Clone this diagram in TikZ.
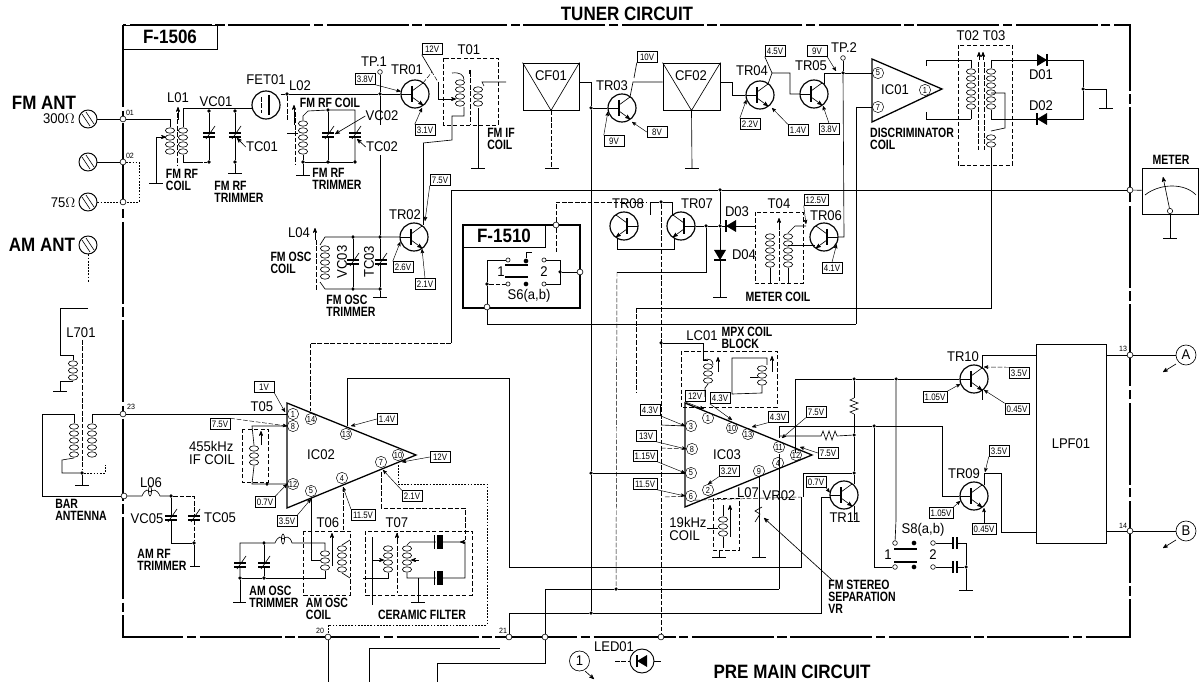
\documentclass[tikz,border=0pt]{standalone}
\usepackage{fontspec}
\setmainfont{Liberation Sans}
\newfontfamily\reglab[FakeStretch=0.93]{Liberation Sans}
\newfontfamily\boldlab[FakeStretch=0.78]{Liberation Sans}
\newfontfamily\biglab[FakeStretch=0.88]{Liberation Sans}
\newfontfamily\voltlab[FakeStretch=0.84]{Liberation Sans}
\usetikzlibrary{arrows}

\newcommand{\transistor}[4]{%
  \node[tr] (#1) at (#2,#3) {};
  \draw[line width=1.6pt] (#2-3*#4,#3-8) -- (#2-3*#4,#3+8);
  \draw (#2-14*#4,#3) -- (#2-3*#4,#3);
  \draw (#2-3*#4,#3-3) -- (#2+8*#4,#3-11);
  \draw[->] (#2-3*#4,#3+3) -- (#2+8*#4,#3+11);
}
\newcommand{\coilv}[3]{%
  \foreach \k in {1,...,#3} \draw (#1,{#2+(\k-.5)*7}) ellipse (4.6 and 2.7);
}
\newcommand{\groundbar}[2]{\draw (#1-7,#2) -- (#1+7,#2);}
\newcommand{\varcap}[2]{%
  \fill[white] (#1-4,#2-2) rectangle (#1+4,#2+2);
  \draw[line width=1pt] (#1-6,#2-2) -- (#1+6,#2-2) (#1-6,#2+2) -- (#1+6,#2+2);
  \draw (#1-3,#2+4) -- (#1+6,#2-9);
}
\newcommand{\sidecap}[2]{%
  \fill[white] (#1-2,#2-4) rectangle (#1+2,#2+4);
  \draw[line width=1pt] (#1-2,#2-6) -- (#1-2,#2+6) (#1+2,#2-6) -- (#1+2,#2+6);
}
\newcommand{\ceramcap}[2]{%
  \fill[white] (#1-3,#2-4) rectangle (#1+3,#2+4);
  \draw (#1-5,#2-7) -- (#1-5,#2+7);
  \fill (#1-2,#2-7) rectangle (#1+4,#2+7);
}
\newcommand{\diodesym}[3]{%
  \begin{scope}[shift={(#1,#2)},rotate=#3]
    \fill (-5,-6) -- (5,0) -- (-5,6) -- cycle;
    \draw[line width=1pt] (5,-6) -- (5,6);
  \end{scope}
}
\newcommand{\screw}[3]{%
  \node[screwhead] (#1) at (#2,#3) {};
  \draw (#2-6,#3-5) -- (#2+2,#3+7) (#2-2,#3-7) -- (#2+6,#3+5);
}

\begin{document}
\begin{tikzpicture}[x=0.03cm,y=-0.03cm,>=stealth',line width=.55pt]
  \tikzstyle{lab}=[inner sep=0pt,font=\reglab\fontsize{12}{12}\selectfont]
  \tikzstyle{blab}=[inner sep=0pt,align=left,font=\boldlab\bfseries\fontsize{11.5}{10.2}\selectfont]
  \tikzstyle{bigl}=[inner sep=0pt,font=\biglab\bfseries\fontsize{16.5}{16.5}\selectfont]
  \tikzstyle{tiny}=[inner sep=0pt,font=\reglab\fontsize{6.5}{6.5}\selectfont]
  \tikzstyle{vbox}=[draw,line width=.4pt,inner xsep=1.5pt,inner ysep=0pt,minimum height=.33cm,minimum width=.6cm,
                    fill=white,font=\voltlab\fontsize{8}{8}\selectfont]
  \tikzstyle{pinc}=[circle,draw,line width=.4pt,inner sep=0pt,minimum size=.34cm,
                    font=\voltlab\fontsize{7.5}{7.5}\selectfont]
  \tikzstyle{tr}=[circle,draw,line width=1pt,inner sep=0pt,minimum size=.84cm]
  \tikzstyle{screwhead}=[circle,draw,line width=.8pt,inner sep=0pt,minimum size=.54cm]
  \tikzstyle{dotn}=[circle,fill,inner sep=0pt,minimum size=3pt]
  \tikzstyle{opn}=[circle,draw,fill=white,line width=.5pt,inner sep=0pt,minimum size=5pt]
  \tikzstyle{lightw}=[dash pattern=on 4pt off 1.5pt,line width=.4pt]
  \tikzstyle{dotw}=[dash pattern=on 1.5pt off 1.2pt,line width=.4pt]
  \tikzstyle{unitbox}=[dash pattern=on 3.5pt off 2pt,line width=.45pt]
  \tikzstyle{board}=[line width=1.1pt,dash pattern=on 70pt off 3pt on 8pt off 3pt]
  \tikzstyle{ichip}=[line width=1.1pt]
  \tikzstyle{varrow}=[->,line width=.4pt,shorten >=0pt]
  \useasboundingbox (0,0) rectangle (1200,682);

  % board
  \draw[board] (123,25) rectangle (1130,637);
  \node[draw,thick,fill=white,minimum width=2.82cm,minimum height=.72cm,inner sep=0pt,
        font=\biglab\bfseries\fontsize{16.5}{16.5}\selectfont] (F1506) at (170,37) {F-1506};
  \node[bigl] (tuner) at (627,14) {TUNER CIRCUIT};
  \node[bigl] (premain) at (792,672) {PRE MAIN CIRCUIT};

  % aerial terminals
  \node[bigl] (fmant) at (44,103) {FM ANT};
  \node[bigl] (amant) at (42,245) {AM ANT};
  \node[lab] (ohm300) at (59,119) {300$\Omega$};
  \node[lab] (ohm75) at (63,203) {75$\Omega$};
  \screw{s300}{88}{119}
  \screw{smid}{88}{162}
  \screw{s75}{88}{202}
  \screw{sam}{88}{245}
  \node[opn] (j01) at (123,119) {};
  \node[opn] (j02) at (123,162) {};
  \node[opn] (j75) at (123,202) {};
  \node[opn] (j23) at (123,414) {};
  \node[opn] (jbar) at (124,496) {};
  \node[tiny] (n01) at (130,113) {01};
  \node[tiny] (n02) at (130,156) {02};
  \node[tiny] (n23) at (131,407) {23};
  \draw (s300) -- (j01);
  \draw (smid) -- (j02);
  \draw[dotw] (s75) -- (j75);
  \draw[dotw] (j02) -- (139,162) -- (139,202) -- (j75);
  \draw[dotw] (sam) -- (88,282);

  % L01 and first trimmers
  \node[lab] (tL01) at (178,98) {L01};
  \node[lab] (tVC01) at (216,102) {VC01};
  \node[lab] (tTC01) at (262,147) {TC01};
  \node[blab] (cL01) at (182,180) {FM RF\\COIL};
  \node[blab] (cTC01) at (239,192) {FM RF\\TRIMMER};
  \node[tr] (FET01) at (266,105) {};
  \node[lab] (tFET01) at (266,80) {FET01};
  \node[dotn] (d1) at (209,111) {};
  \node[dotn] (d2) at (235,111) {};
  \node[dotn] (d3) at (209,162) {};
  \node[dotn] (d4) at (235,162) {};
  \coilv{170}{127}{4}
  \coilv{183}{127}{4}
  \draw (j01) -- (170,119) -- (170,127);
  \draw (183,127) |- (FET01.195);
  \draw (183,155) -- (183,162) -- (198,162);
  \draw[lightw] (198,162) -- (d3);
  \draw[->] (156,183) |- (166,137);
  \groundbar{156}{183}
  \draw[lightw] (177,113) -- (177,165);
  \draw[->] (178,120) -- (178,107);
  \draw (d1) -- (d3);
  \draw (d2) -- (d4) -- (235,173);
  \groundbar{235}{173}
  \varcap{209}{135}
  \varcap{235}{135}
  \draw[->] (tTC01.west) -- (237,138);
  \draw[lightw] (261,97) -- (261,113);
  \draw[line width=1pt] (269,95) -- (269,115);

  % L02 and TR01
  \node[lab] (tL02) at (300,86) {L02};
  \node[blab] (cL02) at (330,103) {FM RF COIL};
  \node[lab] (tVC02) at (382,116) {VC02};
  \node[lab] (tTC02) at (382,147) {TC02};
  \node[blab] (cTC02) at (337,179) {FM RF\\TRIMMER};
  \node[lab] (tTP1) at (374,62) {TP.1};
  \node[opn,minimum size=4pt] (TP1) at (380,72) {};
  \transistor{TR01}{415}{94}{1}
  \node[lab] (tTR01) at (407,70) {TR01};
  \node[dotn] (d5) at (287,94) {};
  \node[dotn] (d6) at (380,94) {};
  \node[dotn] (d7) at (328,110) {};
  \node[dotn] (d8) at (328,162) {};
  \node[dotn] (d9) at (303,162) {};
  \node[dotn] (d10) at (355,162) {};
  \draw (FET01.east |- d5) -- (d5) -- (d6) -- (TR01.west);
  \draw[lightw] (d5) -- (287,120);
  \draw (287,133) -- (298,133);
  \coilv{303}{120}{5}
  \draw (303,120) -- (303,116) -- (308,111) -- (d7) -- (355,110) -- (355,162);
  \draw (d7) -- (d8);
  \draw (d9) -- (d10);
  \draw (303,155) -- (d9) -- (303,175);
  \groundbar{303}{175}
  \varcap{328}{135}
  \varcap{355}{135}
  \draw[->] (294,125) -- (294,105);
  \draw[lightw] (295,112) -- (295,165);
  \draw[->] (tVC02.west) -- (335,134);
  \draw[->] (tTC02.west) -- (357,139);
  \draw (TP1) -- (d6) -- (380,125);
  \node[vbox] (v38a) at (365,79) {3.8V};
  \node[vbox] (v12a) at (432,49) {12V};
  \node[vbox] (v31a) at (425,130) {3.1V};
  \draw[varrow] (v38a.south east) -- (TR01.170);
  \draw (v12a.south west) -- (432,72);
  \draw[varrow] (v31a.north west) -- (422,108);

  % T01
  \node[lab] (tT01) at (469,50) {T01};
  \node[blab] (cT01) at (501,139) {FM IF\\COIL};
  \draw[unitbox] (443,58) rectangle (498,125);
  \coilv{460}{79}{4}
  \coilv{478}{86}{3}
  \draw[lightw] (470,72) -- (470,125);
  \draw[line width=1pt] (470,70) -- (470,74);
  \draw (452,73) .. controls (460,72) and (464,75) .. (464,80);
  \draw[lightw] (423,83) -- (432,72) -- (438,82);
  \draw[->] (438,82) -- (438,99) -- (456,99);
  \draw (484,86) -- (482,82) -- (506,82);
  \draw (478,108) -- (478,168);
  \groundbar{478}{168}
  \draw (464,107) -- (464,116) -- (452,116) -- (452,140) -- (423,143);

  % TR02
  \transistor{TR02}{414}{237}{1}
  \node[lab] (tTR02) at (405,215) {TR02};
  \node[lab] (tL04) at (299,233) {L04};
  \node[blab] (cL04) at (291,263) {FM OSC\\COIL};
  \node[lab,rotate=90] (tVC03) at (342,262) {VC03};
  \node[lab,rotate=90] (tTC03) at (369,262) {TC03};
  \node[blab] (cTC03) at (351,306) {FM OSC\\TRIMMER};
  \node[dotn] (d11) at (353,237) {};
  \node[dotn] (d12) at (380,237) {};
  \node[dotn] (d13) at (353,289) {};
  \node[dotn] (d14) at (380,289) {};
  \draw (380,155) -- (d12) -- (d14) -- (380,297);
  \groundbar{380}{297}
  \draw (320,245) -- (325,237) -- (d11) -- (d12) -- (TR02.west);
  \draw (320,282) -- (325,289) -- (d13) -- (d14);
  \draw (d11) -- (d13);
  \coilv{325}{245}{5}
  \draw[lightw] (316,240) -- (316,290);
  \draw[->] (315,240) -- (315,228);
  \varcap{353}{262}
  \varcap{381}{262}
  \node[vbox] (v75a) at (440,180) {7.5V};
  \node[vbox] (v26a) at (403,267) {2.6V};
  \node[vbox] (v21a) at (425,284) {2.1V};
  \draw (423,143) -- (423,225);
  \draw[varrow] (v75a.south west) -- (425,221);
  \draw[varrow] (v26a.north west) -- (TR02.200);
  \draw[varrow] (v21a.north) -- (422,249);

  % CF01 CF02 TR03
  \node[draw,thick,minimum width=1.68cm,minimum height=1.41cm,inner sep=0pt] (CF01) at (551,86.5) {};
  \node[draw,thick,minimum width=1.71cm,minimum height=1.41cm,inner sep=0pt] (CF02) at (691.5,86.5) {};
  \draw (CF01.north west) -- (CF01.south) -- (CF01.north east);
  \draw (CF02.north west) -- (CF02.south) -- (CF02.north east);
  \node[lab] (tCF01) at (551,76) {CF01};
  \node[lab] (tCF02) at (691,76) {CF02};
  \draw[lightw] (CF01.south) -- (551,168);
  \groundbar{552}{168}
  \draw (CF02.south) -- (692,168);
  \groundbar{692}{168}
  \transistor{TR03}{622}{108}{1}
  \node[lab] (tTR03) at (612,86) {TR03};
  \node[dotn] (d15) at (591,108) {};
  \node[dotn] (d16) at (591,473) {};
  \node[dotn] (d17) at (591,613) {};
  \draw (CF01.east |- 0,82) -- (591,82) -- (d15) -- (TR03.west);
  \draw (d15) -- (d16) -- (d17);
  \draw (630,97) -- (633,82) -- (CF02.west |- 0,82);
  \node[vbox] (v10a) at (647,57) {10V};
  \node[vbox] (v9a) at (614,141) {9V};
  \node[vbox] (v8a) at (657,132) {8V};
  \draw (v10a.south west) -- (634,78);
  \draw[varrow] (v9a.north west) -- (TR03.195);
  \draw[varrow] (v8a.west) -- (632,122);

  % TR04 TR05
  \transistor{TR04}{760}{95}{1}
  \transistor{TR05}{814}{94}{1}
  \node[lab] (tTR04) at (752,71) {TR04};
  \node[lab] (tTR05) at (811,66) {TR05};
  \draw (CF02.east |- 0,82) -- (732,82) -- (732,95) -- (TR04.west);
  \draw (768,84) -- (772,73) -- (790,73) -- (790,94) -- (TR05.west);
  \node[vbox] (v45a) at (775,51) {4.5V};
  \node[vbox] (v22a) at (750,124) {2.2V};
  \node[vbox] (v14a) at (798,130) {1.4V};
  \node[vbox] (v9b) at (817,51) {9V};
  \node[vbox] (v38b) at (829,129) {3.8V};
  \draw (v45a.south west) -- (772,73);
  \draw[varrow] (v22a.north west) -- (TR04.200);
  \draw[varrow] (v14a.north west) -- (772,108);
  \draw[varrow] (v9b.south east) -- (836,71);
  \draw[varrow] (v38b.north) -- (823,106);

  % IC01 and discriminator
  \node[lab] (tTP2) at (844,48) {TP.2};
  \node[opn,minimum size=4pt] (TP2) at (843,58) {};
  \node[dotn] (d18) at (843,73) {};
  \node[pinc] (p5a) at (878,73) {5};
  \node[pinc] (p7a) at (878,107) {7};
  \node[pinc] (p1a) at (925,90) {1};
  \node[lab] (tIC01) at (895,90) {IC01};
  \draw[ichip] (872,59) -- (942,89) -- (872,122) -- cycle;
  \node[blab] (cIC01) at (912,139) {DISCRIMINATOR\\COIL};
  \draw (824,84) -- (824,73) -- (d18) -- (p5a);
  \draw (TP2) -- (d18);
  \draw (p7a) -- (856,107);
  \draw (926,66) -- (926,60) -- (971,60);
  \draw (926,112) -- (926,119) -- (971,119);
  \node[lab] (tT02) at (981,36) {T02 T03};
  \draw[unitbox] (958,45) rectangle (1012,165);
  \coilv{971}{68}{6}
  \coilv{991}{68}{6}
  \draw (971,60) -- (971,68) (971,110) -- (971,119);
  \draw (991,60) -- (991,68) (991,110) -- (991,119);
  \draw[lightw] (978,62) -- (978,150) (984,62) -- (984,150);
  \draw[->] (979,60) -- (979,52);
  \draw[->] (983,60) -- (983,52);
  \coilv{991}{134}{2}
  \draw (991,93) -- (1005,93) -- (1005,128) -- (991,131);
  \node[dotn] (d19) at (1083,89) {};
  \node[lab] (tD01) at (1041,75) {D01};
  \node[lab] (tD02) at (1041,106) {D02};
  \draw (991,60) -- (1083,60) -- (d19) -- (1083,119) -- (991,119);
  \draw (d19) -- (1106,89) -- (1106,108);
  \groundbar{1106}{108}
  \diodesym{1042}{60}{0}
  \diodesym{1042}{119}{180}

  % long wires
  \draw (856,107) -- (856,324);
  \draw (991,148) -- (991,308) -- (636,308);
  \draw[lightw] (636,308) -- (636,392);

  % meter bus
  \node[opn] (jm) at (1130,190) {};
  \node[dotn] (d20) at (720,190) {};
  \draw (451,343) -- (451,190) -- (d20) -- (jm);
  \draw[lightw] (451,343) -- (310,343) -- (310,411);
  \node[draw,thick,minimum width=1.68cm,minimum height=1.38cm,inner sep=0pt] (meter) at (1170,191) {};
  \node[blab] (tmeter) at (1171,160) {METER};
  \node[opn,minimum size=4.5pt] (mpiv) at (1170,211) {};
  \draw (jm) -- (meter);
  \draw (1145,195) .. controls (1160,183) and (1185,183) .. (1196,195);
  \draw[->] (mpiv) -- (1163,177);
  \draw (mpiv) -- (1170,238);
  \groundbar{1170}{238}

  % TR06 TR07 TR08 and meter coil
  \transistor{TR06}{824}{237}{-1}
  \transistor{TR07}{681}{226}{-1}
  \transistor{TR08}{624}{226}{-1}
  \node[lab] (tTR06) at (826,216) {TR06};
  \node[lab] (tTR07) at (697,204) {TR07};
  \node[lab] (tTR08) at (628,204) {TR08};
  \node[lab] (tD03) at (737,212) {D03};
  \node[lab] (tD04) at (744,255) {D04};
  \node[lab] (tT04) at (779,204) {T04};
  \node[blab] (cT04) at (778,297) {METER COIL};
  \node[dotn] (d21) at (720,226) {};
  \node[dotn] (d22) at (706,226) {};
  \node[dotn] (d23) at (661,202) {};
  \draw (d20) -- (d21) -- (720,297);
  \groundbar{720}{297}
  \diodesym{720}{255}{-90}
  \draw (TR07.east) -- (d22) -- (d21) -- (755,226);
  \diodesym{731}{226}{180}
  \draw (d22) -- (706,272) -- (617,272);
  \draw (650,215) -- (650,202) -- (d23) -- (672,202) -- (672,215);
  \draw (617,238) -- (617,249) -- (674,249) -- (674,238);
  \draw[unitbox] (755,212) rectangle (803,283);
  \coilv{770}{233}{5}
  \coilv{788}{233}{5}
  \draw (770,268) -- (770,283) (788,268) -- (788,283);
  \draw[lightw] (779,225) -- (779,283);
  \draw[->] (779,229) -- (779,218);
  \draw (788,233) -- (795,226) -- (806,226);
  \draw (788,245) -- (815,245);
  \draw (TR06.east) -- (844,237) -- (d18);
  \node[vbox] (v125) at (816,200) {12.5V};
  \node[vbox] (v41) at (832,268) {4.1V};
  \draw[varrow] (v125.south west) -- (806,224);
  \draw[varrow] (v41.north) -- (TR06.-30);
  \draw[lightw] (d23) -- (661,343);

  % F-1510 with S6
  \node[draw,line width=1.2pt,minimum width=3.51cm,minimum height=2.49cm,inner sep=0pt] (F1510) at (521.5,266.5) {};
  \node[draw,thick,fill=white,minimum width=2.46cm,minimum height=.66cm,inner sep=0pt,
        font=\biglab\bfseries\fontsize{16.5}{16.5}\selectfont] (tF1510) at (504,236) {F-1510};
  \node[opn] (j1510) at (556,225) {};
  \node[opn] (js6b) at (487,307) {};
  \node[opn] (js6r) at (580,272) {};
  \node[dotn] (d24) at (487,284) {};
  \node[lab] (s6one) at (501,272) {1};
  \node[lab] (s6two) at (544,272) {2};
  \node[lab] (tS6) at (529,296) {S6(a,b)};
  \node[opn,minimum size=3.5pt] (s6e) at (508,260) {};
  \node[opn,minimum size=3.5pt] (s6f) at (508,284) {};
  \node[dotn,minimum size=4pt] (s6g) at (526,261) {};
  \node[dotn,minimum size=4pt] (s6h) at (526,284) {};
  \draw[lightw] (j1510) |- (647,202);
  \draw[lightw] (j1510) -- (556,252);
  \draw (js6b) -- (487,324) -- (856,324);
  \draw (js6b) -- (d24) -- (487,260) -- (s6e);
  \draw[lightw] (d24) -- (s6f);
  \draw (s6g) -- (526,252) -- (532,252);
  \draw[line width=1.4pt] (505,265) -- (528,265) (505,277) -- (528,277);
  \node[opn,minimum size=3.5pt] (s6a) at (544,260) {};
  \node[opn,minimum size=3.5pt] (s6c) at (544,284) {};
  \node[dotn] (s6d) at (560,272) {};
  \draw (s6a) -- (560,260) -- (560,284) -- (s6c);
  \draw (s6d) -- (js6r);

  % vertical runs to the bottom edge
  \node[opn] (j20) at (328,637) {};
  \node[opn] (j21) at (509,637) {};
  \node[opn] (j22) at (545,637) {};
  \node[opn] (j24) at (661,637) {};
  \node[tiny] (n20) at (320,631) {20};
  \node[tiny] (n21) at (503,631) {21};
  \node[dotn] (d25) at (616,589) {};
  \draw[lightw] (617,272) -- (d25);
  \draw[lightw] (661,343) -- (j24);
  \draw (j20) -- (328,682);
  \draw (j22) -- (545,589) -- (d25) -- (779,589);
  \draw (j22) -- (545,663) -- (437,663) -- (437,682);
  \draw (369,682) -- (369,648) -- (500,648);
  \draw (j21) -- (509,613) -- (d17) -- (821,613) -- (821,497) -- (830,497);

  % antenna coil
  \node[lab] (tL701) at (81,333) {L701};
  \node[blab] (cbar) at (81,510) {BAR\\ANTENNA};
  \node[lab] (tL06) at (151,483) {L06};
  \node[lab] (tVC05) at (147,519) {VC05};
  \node[lab] (tTC05) at (220,518) {TC05};
  \node[blab] (cVC05) at (162,560) {AM RF\\TRIMMER};
  \node[dotn] (d26) at (82,473) {};
  \node[dotn] (d27) at (171,496) {};
  \node[dotn] (d28) at (194,543) {};
  \coilv{73}{360}{3}
  \draw (88,308) -- (60,308) -- (60,355) -- (73,355) -- (73,360);
  \draw (73,381) -- (60,381) -- (60,391);
  \groundbar{60}{391}
  \draw[lightw] (82,340) -- (82,470);
  \coilv{74}{423}{5}
  \coilv{92}{423}{5}
  \draw (92,423) -- (92,414) -- (j23);
  \draw (74,423) -- (74,414) -- (42,414) -- (42,496) -- (jbar);
  \draw (74,458) -- (62,460) -- (62,473) -- (d26);
  \draw[dotw] (d26) -- (105,473) -- (105,465);
  \draw (d26) -- (82,485);
  \groundbar{82}{485}
  \draw (jbar) -- (142,496) .. controls (145,489) and (148,489) .. (150,492)
        .. controls (153,489) and (157,489) .. (160,496) -- (d27);
  \draw (150,491) ellipse (1.6 and 5);
  \draw[lightw] (d27) -- (194,496) -- (d28);
  \draw (d27) -- (171,543) -- (d28) -- (194,566);
  \draw (190,566) -- (200,566);
  \varcap{171}{518}
  \varcap{194}{518}

  % IC02
  \node[lab] (tT05) at (262,407) {T05};
  \node[lab] (tIC02) at (321,455) {IC02};
  \node[lab,align=left,font=\reglab\fontsize{12}{11}\selectfont] (cT05) at (212,453) {455kHz\\IF COIL};
  \draw[ichip] (287,403) -- (416,455) -- (287,508) -- cycle;
  \node[pinc] (p1b) at (293,414) {1};
  \node[pinc] (p8b) at (293,426) {8};
  \node[pinc] (p14b) at (311,419) {14};
  \node[pinc] (p13b) at (346,434) {13};
  \node[pinc] (p12b) at (293,484) {12};
  \node[pinc] (p5b) at (311,491) {5};
  \node[pinc] (p4b) at (342,478) {4};
  \node[pinc] (p7b) at (381,462) {7};
  \node[pinc] (p10b) at (398,455) {10};
  \node[vbox] (v1b) at (264,387) {1V};
  \node[vbox] (v75b) at (220,424) {7.5V};
  \node[vbox] (v07b) at (265,502) {0.7V};
  \node[vbox] (v35b) at (287,521) {3.5V};
  \node[vbox] (v115b) at (363,515) {11.5V};
  \node[vbox] (v21b) at (412,496) {2.1V};
  \node[vbox] (v14b) at (387,419) {1.4V};
  \node[vbox] (v12b) at (440,457) {12V};
  \draw[varrow] (v1b.south east) -- (285,412);
  \draw[varrow,lightw] (v75b.north east) -- (p8b.west);
  \draw[varrow] (v07b.north east) -- (p12b.west);
  \draw[varrow] (v35b.north east) -- (311,499);
  \draw[varrow] (v115b.north west) -- (343,487);
  \draw[varrow] (v21b.north west) -- (383,470);
  \draw[varrow] (v14b.west) -- (351,426);
  \draw[varrow] (v12b.west) -- (402,462);
  \draw (j23) -- (p1b.west);
  \draw (347,426) -- (347,378) -- (509,378) -- (509,567) -- (801,567) -- (801,497);
  \node[dotn] (d29) at (267,484) {};
  \draw[unitbox] (242,429) rectangle (268,482);
  \coilv{254}{445}{3}
  \draw (254,445) -- (252,426) -- (p8b.west);
  \draw (254,466) -- (252,484) -- (d29) -- (p12b.west);
  \draw[->] (261,445) -- (261,431);
  % IC02 to bottom edge and T07
  \draw[dotw] (398,465) -- (398,484) -- (487,484) -- (487,625) -- (328,625) -- (j20);
  \draw[lightw] (381,472) -- (381,508) -- (465,508) -- (465,540);
  \draw[lightw] (343,487) -- (343,531);
  \draw (311,498) -- (311,560) -- (320,560);

  % T06
  \node[lab] (tT06) at (328,523) {T06};
  \node[blab] (cT06) at (327,609) {AM OSC\\COIL};
  \node[blab] (cTR6) at (274,597) {AM OSC\\TRIMMER};
  \draw[unitbox] (303,531) rectangle (350,595);
  \coilv{325}{550}{3}
  \coilv{342}{545}{4}
  \draw[->] (332,566) -- (332,533);
  \node[dotn] (d30) at (264,543) {};
  \node[dotn] (d31) at (240,578) {};
  \node[dotn] (d32) at (264,578) {};
  \draw (d31) -- (240,543) -- (d30) -- (275,543) .. controls (278,536) and (281,536) .. (283,539)
        .. controls (286,536) and (290,536) .. (292,543) -- (325,543) -- (325,550);
  \draw (283,539) ellipse (1.6 and 5);
  \draw (d30) -- (d32);
  \draw (d31) -- (d32) -- (325,578) -- (325,571);
  \draw (d31) -- (240,602);
  \draw (233,602) -- (246,602);
  \draw (342,573) -- (350,578) (342,545) -- (350,540);
  \varcap{240}{565}
  \varcap{264}{565}

  % T07
  \node[lab] (tT07) at (397,523) {T07};
  \node[blab] (cT07) at (422,615) {CERAMIC FILTER};
  \draw[unitbox] (365,531) rectangle (472,595);
  \coilv{388}{545}{4}
  \coilv{407}{545}{4}
  \draw (372,537) -- (372,605);
  \draw[->] (372,560) -- (384,560);
  \draw[->] (419,560) -- (411,560);
  \draw (363,578) -- (388,578) -- (388,573);
  \draw (407,545) -- (410,542) -- (465,542) -- (465,578) -- (407,578) -- (407,573);
  \draw[->] (465,542) -- (460,542);
  \draw (418,578) -- (418,602);
  \groundbar{418}{602}
  \draw[lightw] (397,533) -- (397,593);
  \draw[->] (397,541) -- (397,533);
  \ceramcap{439}{542}
  \ceramcap{439}{578}

  % IC03
  \node[lab] (tIC03) at (727,455) {IC03};
  \node[lab] (tLC01) at (702,336) {LC01};
  \node[blab] (cLC01) at (747,338) {MPX COIL\\BLOCK};
  \node[lab] (tL07) at (748,493) {L07};
  \node[lab] (tVR02) at (779,496) {VR02};
  \node[lab,align=left,font=\reglab\fontsize{12}{11}\selectfont] (c19k) at (688,529) {19kHz\\COIL};
  \node[blab] (cVR02) at (862,597) {FM STEREO\\SEPARATION\\VR};
  \draw[ichip] (685,403) -- (812,455) -- (685,507) -- cycle;
  \node[pinc] (p3c) at (691,426) {3};
  \node[pinc] (p8c) at (692,449) {8};
  \node[pinc] (p5c) at (691,473) {5};
  \node[pinc] (p6c) at (691,496) {6};
  \node[pinc] (p1c) at (708,418) {1};
  \node[pinc] (p10c) at (732,428) {10};
  \node[pinc] (p13c) at (748,434) {13};
  \node[pinc] (p11c) at (779,447) {11};
  \node[pinc] (p12c) at (796,455) {12};
  \node[pinc] (p4c) at (778,463) {4};
  \node[pinc] (p9c) at (759,471) {9};
  \node[pinc] (p2c) at (708,490) {2};
  \node[vbox] (v43c) at (650,410) {4.3V};
  \node[vbox] (v13c) at (646,436) {13V};
  \node[vbox] (v115c) at (645,456) {1.15V};
  \node[vbox] (v115d) at (645,484) {11.5V};
  \node[vbox] (v12c) at (695,396) {12V};
  \node[vbox] (v43d) at (720,398) {4.3V};
  \node[vbox] (v43e) at (778,417) {4.3V};
  \node[vbox] (v75c) at (816,412) {7.5V};
  \node[vbox] (v75d) at (828,453) {7.5V};
  \node[vbox] (v32c) at (729,471) {3.2V};
  \node[vbox] (v07c) at (816,482) {0.7V};
  \draw[varrow] (v43c.south east) -- (p3c.west);
  \draw[varrow] (v13c.south east) -- (p8c.west);
  \draw[varrow] (v115c.south east) -- (p5c.west);
  \draw[varrow] (v115d.south east) -- (p6c.west);
  \draw[varrow] (v12c.south west) -- (704,409);
  \draw[varrow] (v43d.south west) -- (732,420);
  \draw[varrow] (v43e.south west) -- (752,427);
  \draw[varrow] (v75c.south west) -- (782,438);
  \draw[varrow] (v75d.west) -- (800,447);
  \draw[varrow] (v32c.south west) -- (p2c.north);
  \transistor{TR10}{974}{379}{1}
  \transistor{TR09}{974}{496}{1}
  \transistor{TR11}{844}{495}{1}
  \node[dotn] (d33) at (661,343) {};
  \node[dotn] (d34) at (854,379) {};
  \node[dotn] (d35) at (896,379) {};
  \node[dotn] (d36) at (854,435) {};
  \node[dotn] (d37) at (854,473) {};
  \node[dotn] (d38) at (874,426) {};
  \draw (661,425) -- (p3c.west);
  \draw[lightw] (661,448) -- (p8c.west);
  \draw (d16) -- (p5c.west);
  \draw[lightw] (665,497) -- (p6c.west);
  \draw[lightw] (p6c.south east) -- (801,497);

  % MPX block
  \draw[unitbox] (681,351) rectangle (777,407);
  \draw (d33) -- (703,343) -- (703,360) -- (708,360);
  \coilv{708}{363}{3}
  \draw (703,360) .. controls (710,358) and (713,360) .. (713,365);
  \draw (708,384) -- (705,388) -- (705,397);
  \draw[->] (718,372) -- (718,357);
  \coilv{762}{365}{3}
  \draw (767,365) -- (767,358) -- (732,358) -- (732,394) -- (762,393) -- (762,386);
  \draw (750,377) -- (758,377);
  \draw[->] (772,372) -- (772,356);

  % right of IC03
  \draw (795,453) -- (795,379) -- (d34) -- (d35) -- (TR10.west);
  \draw (d34) -- (854,398);
  \draw (854,398) -- (850,400) -- (858,403) -- (850,406) -- (858,409) -- (850,412) -- (854,414);
  \draw (854,414) -- (d36) -- (d37) -- (854,484);
  \draw (779,426) -- (d38) -- (942,426) -- (942,496) -- (TR09.west);
  \draw (779,426) -- (779,438);
  \draw (779,454) -- (779,589);
  \draw (779,436) -- (821,436) -- (823,431) -- (826,440) -- (829,431) -- (832,440) -- (835,431) -- (837,436) -- (d36);
  \draw (803,473) -- (d37);
  \draw (803,473) -- (803,497);
  \draw (854,506) -- (854,520);
  \draw (759,476) -- (759,557);
  \groundbar{759}{557}
  \draw (755,522) -- (760,514) -- (755,511) -- (762,507);
  \draw[->] (832,580) -- (764,518);
  \node[lab] (tTR11) at (845,518) {TR11};
  \draw[varrow] (v07c.south east) -- (TR11.170);

  % 19kHz coil
  \draw[unitbox] (713,498) rectangle (739,550);
  \coilv{723}{516}{3}
  \draw (723,516) -- (723,505) (723,537) -- (723,548);
  \draw (719,557) -- (719,550);
  \groundbar{719}{557}
  \draw[->] (730,537) -- (730,505);
  \draw (707,528) -- (718,528);

  % TR10 TR09 and low pass filter
  \node[lab] (tTR10) at (963,357) {TR10};
  \node[lab] (tTR09) at (964,474) {TR09};
  \node[draw,thick,minimum width=2.1cm,minimum height=5.97cm,inner sep=0pt] (LPF01) at (1071,443.5) {};
  \node[lab] (tLPF01) at (1071,444) {LPF01};
  \node[opn] (j13) at (1130,355) {};
  \node[opn] (j14) at (1130,531) {};
  \node[tiny] (n13) at (1123,349) {13};
  \node[tiny] (n14) at (1123,526) {14};
  \node[circle,draw,inner sep=0pt,minimum size=.6cm,font=\reglab\fontsize{12}{12}\selectfont] (outA) at (1186,355) {A};
  \node[circle,draw,inner sep=0pt,minimum size=.6cm,font=\reglab\fontsize{12}{12}\selectfont] (outB) at (1186,531) {B};
  \draw (LPF01.east |- j13) -- (j13) -- (outA);
  \draw (LPF01.east |- j14) -- (j14) -- (outB);
  \draw[->] (1176,364) -- (1163,372);
  \draw[->] (1176,540) -- (1163,548);
  \draw (982,368) -- (982,355) -- (LPF01.west |- 0,355);
  \draw (982,390) -- (982,400);
  \draw (984,485) -- (984,473) -- (1001,473) -- (1001,532) -- (LPF01.west |- 0,532);
  \node[vbox] (v35d) at (1019,373) {3.5V};
  \node[vbox] (v105d) at (935,397) {1.05V};
  \node[vbox] (v045d) at (1017,409) {0.45V};
  \node[vbox] (v35e) at (999,451) {3.5V};
  \node[vbox] (v105e) at (941,513) {1.05V};
  \node[vbox] (v045e) at (984,529) {0.45V};
  \draw[varrow,lightw] (v35d.north west) -- (984,367);
  \draw[varrow] (v105d.north east) -- (TR10.200);
  \draw[varrow] (v045d.north west) -- (984,390);
  \draw[varrow] (v35e.south west) -- (985,472);
  \draw[varrow] (v105e.north east) -- (TR09.200);
  \draw[varrow] (v045e.north) -- (984,508);

  % S8
  \node[lab] (tS8) at (923,530) {S8(a,b)};
  \node[lab] (s8one) at (888,555) {1};
  \node[lab] (s8two) at (933,555) {2};
  \node[opn,minimum size=4pt] (s8a) at (895,543) {};
  \node[opn,minimum size=4pt] (s8b) at (895,567) {};
  \node[opn,minimum size=4pt] (s8c) at (933,543) {};
  \node[opn,minimum size=4pt] (s8d) at (933,567) {};
  \node[dotn,minimum size=4pt] (s8e) at (914,543) {};
  \node[dotn,minimum size=4pt] (s8f) at (914,567) {};
  \node[dotn] (s8g) at (966,567) {};
  \draw (d35) -- (896,520) -- (s8a);
  \draw (d38) -- (874,567) -- (s8b);
  \draw[line width=1.4pt] (894,549) -- (917,549) (894,562) -- (917,562);
  \draw (s8c) -- (966,543) -- (s8g) -- (966,590);
  \draw (s8d) -- (s8g);
  \groundbar{966}{590}
  \sidecap{955}{543}
  \sidecap{955}{567}

  % LED and marker
  \node[circle,draw,line width=.8pt,inner sep=0pt,minimum size=.72cm] (LED01) at (642,661) {};
  \diodesym{642}{661}{180}
  \draw[lightw] (615,661) -- (LED01);
  \draw (LED01) -- (661,661);
  \node[lab] (tLED01) at (614,647) {LED01};
  \node[circle,draw,inner sep=0pt,minimum size=.6cm,font=\reglab\fontsize{12}{12}\selectfont] (mk1) at (579.5,661) {1};
  \draw[->] (585,671) -- (594,679);
\end{tikzpicture}
\end{document}
